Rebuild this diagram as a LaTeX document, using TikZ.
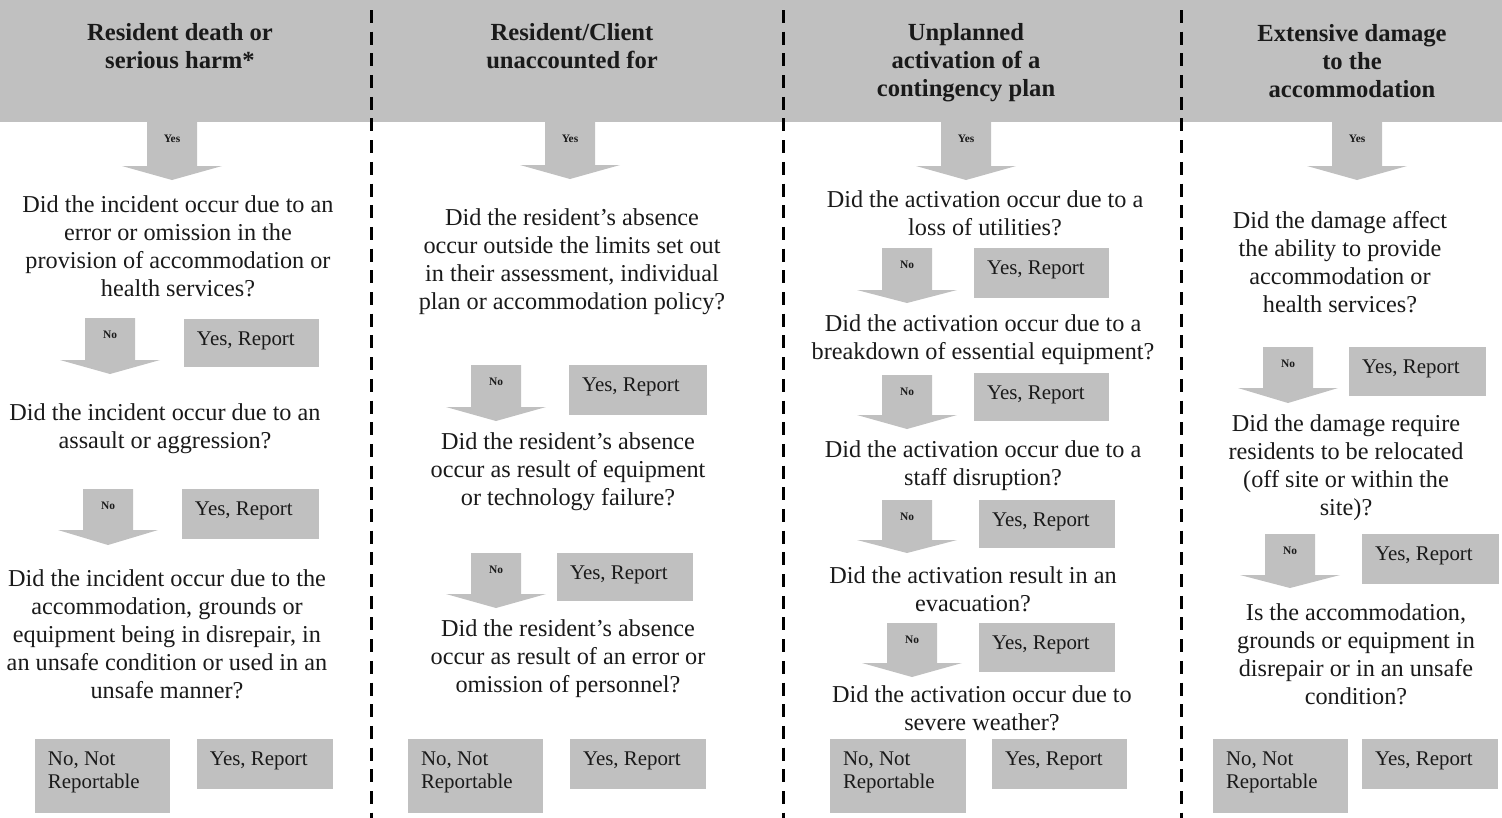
\documentclass[tikz,border=0pt]{standalone}
\usepackage{fontspec}
\setmainfont{Liberation Serif}
\usetikzlibrary{fit}
\definecolor{boxgrey}{HTML}{C0C0C0}
\definecolor{ink}{HTML}{1A1A1A}
\tikzset{
 hdr/.style={font=\fontsize{14}{15.9}\selectfont\bfseries, align=center, text=ink, inner sep=0},
 qtext/.style={font=\fontsize{13.8}{16}\selectfont, align=center, text=ink, inner sep=0},
 btext/.style={font=\fontsize{11.9}{13.2}\selectfont, align=left, text=ink, inner sep=0, anchor=north west},
 tinylab/.style={font=\fontsize{6.5}{7}\selectfont\bfseries, text=ink, inner sep=0},
 gbox/.style={fill=boxgrey, draw=none, inner sep=0},
 divider/.style={line width=0.06cm, dash pattern=on 0.26cm off 0.174cm, draw=black},
}
\newcommand{\flowarrow}[6]{%
 \fill[boxgrey] ({#2-25},#3) -- ({#2+25},#3) -- ({#2+25},#4) -- ({#2+50},#4) -- (#2,#5) -- ({#2-50},#4) -- ({#2-25},#4) -- cycle;
 \node[tinylab] (#1) at (#2,{#3+17}) {#6};
}
\newcommand{\reportbox}[6]{%
 \node[gbox, fit={(#2,#3) (#4,#5)}] (#1) {};
 \node[btext] (#1t) at ([xshift=0.26cm,yshift=-0.26cm]#1.north west) {#6};
}
\begin{document}
\begin{tikzpicture}[x=0.02cm,y=-0.02cm]
\useasboundingbox (0,0) rectangle (1502,818);
\fill[white] (0,0) rectangle (1502,818);
\node[gbox, fit={(0,0) (1502,122)}] (band) {};
% dividers
\draw[divider] (371,10) -- (371,818);
\draw[divider] (783,10) -- (783,818);
\draw[divider] (1181,10) -- (1181,818);
% headers
\node[hdr] (h1) at (180,46.5) {Resident death or\\serious harm*};
\node[hdr] (h2) at (572,46.5) {Resident/Client\\unaccounted for};
\node[hdr] (h3) at (966,62.5) {Unplanned\\activation of a\\contingency plan};
\node[hdr] (h4) at (1352,61.5) {Extensive damage\\to the\\accommodation};
% ---------- column 1
\flowarrow{a1y}{172}{122}{166}{180}{Yes}
\node[qtext] (q11) at (178,246) {Did the incident occur due to an\\error or omission in the\\provision of accommodation or\\health services?};
\flowarrow{a1n1}{110}{318}{360}{374}{No}
\reportbox{r11}{184}{319}{319}{367}{Yes, Report}
\node[qtext] (q12) at (165,429) {Did the incident occur due to an\\assault or aggression?};
\flowarrow{a1n2}{108}{489}{530}{545}{No}
\reportbox{r12}{182}{489}{319}{539}{Yes, Report}
\node[qtext] (q13) at (167,634) {Did the incident occur due to the\\accommodation, grounds or\\equipment being in disrepair, in\\an unsafe condition or used in an\\unsafe manner?};
\reportbox{n1}{35}{739}{170}{813}{No, Not\\Reportable}
\reportbox{r13}{197}{739}{333}{789}{Yes, Report}
% ---------- column 2
\flowarrow{a2y}{570}{122}{165}{179}{Yes}
\node[qtext] (q21) at (572,262) {Did the resident’s absence\\occur outside the limits set out\\in their assessment, individual\\plan or accommodation policy?};
\flowarrow{a2n1}{496}{365}{407}{421}{No}
\reportbox{r21}{569}{365}{707}{415}{Yes, Report}
\node[qtext] (q22) at (568,472) {Did the resident’s absence\\occur as result of equipment\\or technology failure?};
\flowarrow{a2n2}{496}{553}{594}{608}{No}
\reportbox{r22}{557}{553}{693}{601}{Yes, Report}
\node[qtext] (q23) at (568,658.5) {Did the resident’s absence\\occur as result of an error or\\omission of personnel?};
\reportbox{n2}{408}{739}{543}{813}{No, Not\\Reportable}
\reportbox{r23}{570}{739}{706}{789}{Yes, Report}
% ---------- column 3
\flowarrow{a3y}{966}{122}{166}{180}{Yes}
\node[qtext] (q31) at (985,213) {Did the activation occur due to a\\loss of utilities?};
\flowarrow{a3n1}{907}{248}{290}{303}{No}
\reportbox{r31}{974}{248}{1109}{298}{Yes, Report}
\node[qtext] (q32) at (983,339.5) {Did the activation occur due to a\\breakdown of essential equipment?};
\flowarrow{a3n2}{907}{375}{415}{429}{No}
\reportbox{r32}{974}{373}{1109}{421}{Yes, Report}
\node[qtext] (q33) at (983,466) {Did the activation occur due to a\\staff disruption?};
\flowarrow{a3n3}{907}{500}{540}{553}{No}
\reportbox{r33}{979}{500}{1115}{548}{Yes, Report}
\node[qtext] (q34) at (973,589) {Did the activation result in an\\evacuation?};
\flowarrow{a3n4}{912}{623}{663}{677}{No}
\reportbox{r34}{979}{623}{1115}{672}{Yes, Report}
\node[qtext] (q35) at (982,708) {Did the activation occur due to\\severe weather?};
\reportbox{n3}{830}{739}{966}{813}{No, Not\\Reportable}
\reportbox{r35}{992}{739}{1127}{789}{Yes, Report}
% ---------- column 4
\flowarrow{a4y}{1357}{122}{166}{180}{Yes}
\node[qtext] (q41) at (1340,262) {Did the damage affect\\the ability to provide\\accommodation or\\health services?};
\flowarrow{a4n1}{1288}{347}{388}{403}{No}
\reportbox{r41}{1349}{347}{1486}{396}{Yes, Report}
\node[qtext] (q42) at (1346,467.5) {Did the damage require\\residents to be relocated\\(off site or within the\\site)?};
\flowarrow{a4n2}{1290}{534}{575}{588}{No}
\reportbox{r42}{1362}{534}{1499}{584}{Yes, Report}
\node[qtext] (q43) at (1356,654.5) {Is the accommodation,\\grounds or equipment in\\disrepair or in an unsafe\\condition?};
\reportbox{n4}{1213}{739}{1348}{813}{No, Not\\Reportable}
\reportbox{r43}{1362}{739}{1498}{789}{Yes, Report}
\end{tikzpicture}
\end{document}
